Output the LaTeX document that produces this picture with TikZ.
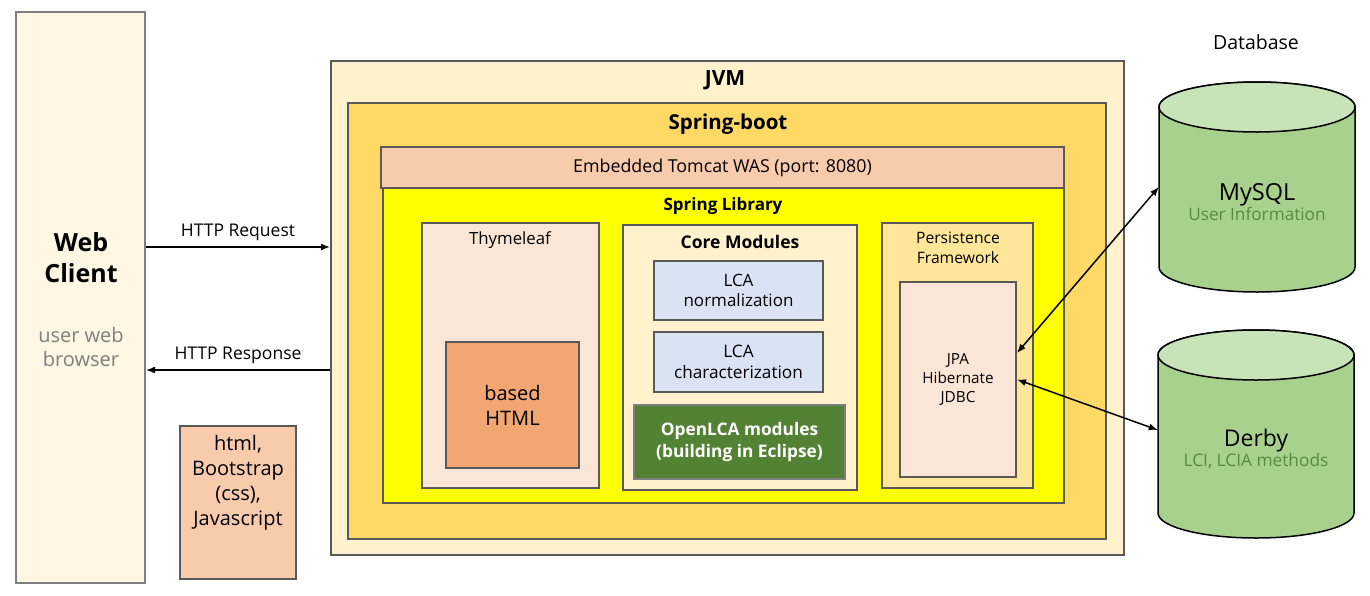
\documentclass[tikz,border=0pt]{standalone}
\usepackage{fontspec}
\setmainfont{Open Sans}
\usepackage{tikz}
\usetikzlibrary{positioning}
\usetikzlibrary{arrows.meta}
\definecolor{edge}{HTML}{595959}
\definecolor{clientedge}{HTML}{7F7F7F}
\definecolor{clientfill}{HTML}{FFF7E4}
\definecolor{jvmfill}{HTML}{FFF2CC}
\definecolor{bootfill}{HTML}{FFD966}
\definecolor{peach}{HTML}{F8CBAD}
\definecolor{libfill}{HTML}{FFFF00}
\definecolor{pale}{HTML}{FBE5D6}
\definecolor{orangebox}{HTML}{F2A772}
\definecolor{bluebox}{HTML}{DAE3F3}
\definecolor{greenbox}{HTML}{548235}
\definecolor{persfill}{HTML}{FFE699}
\definecolor{dbbody}{HTML}{A9D18E}
\definecolor{dbtop}{HTML}{C9E3B8}
\definecolor{dbtext}{HTML}{5A8A40}
\newcommand{\fsz}[2]{\fontsize{#1}{#2}\selectfont}
\tikzset{>={Latex[length=9pt,width=7pt]}}
\tikzset{
  layer/.style={draw=edge, line width=2pt, inner sep=0pt, align=center},
  dbside/.style={draw=black, line width=1.5pt, fill=dbbody},
  dbcap/.style={draw=black, line width=1.5pt, fill=dbtop},
  link/.style={line width=1.5pt}
}

\begin{document}
\begin{tikzpicture}[x=1pt,y=-1pt]
\useasboundingbox (0,0) rectangle (1370,595);

% ---------- Web client ----------
\node[layer, draw=clientedge, fill=clientfill, minimum width=129pt, minimum height=571pt] (web) at (80.5,297.5) {};
\node[font=\fsz{25}{31}\bfseries, align=center] (webname) at (81,258) {Web\\Client};
\node[font=\fsz{20}{24}, text=clientedge, align=center] (webdesc) at (81,347) {user web\\browser};

\node[layer, fill=peach, minimum width=116pt, minimum height=153pt] (front) at (238,502.5) {};
\node[font=\fsz{20}{25}, align=center] (fronttxt) at (238,482.5) {html,\\Bootstrap\\(css),\\Javascript};

% ---------- JVM / Spring-boot ----------
\node[layer, fill=jvmfill, minimum width=793pt, minimum height=494pt] (jvm) at (727.5,308) {};
\node[font=\fsz{21}{24}\bfseries] (jvmname) at (725,80) {JVM};
\node[layer, fill=bootfill, minimum width=758pt, minimum height=436pt] (boot) at (727,321) {};
\node[font=\fsz{20.5}{24}\bfseries] (bootname) at (728,124) {Spring-boot};
\node[layer, fill=peach, font=\fsz{17.8}{20}, minimum width=683pt, minimum height=41pt] (tomcat) at (722.5,167.5) {Embedded Tomcat WAS (port: 8080)};
\node[layer, fill=libfill, minimum width=681pt, minimum height=315pt] (lib) at (723.5,345.5) {};
\node[font=\fsz{17}{20}\bfseries] (libname) at (723,206) {Spring Library};

% ---------- Thymeleaf ----------
\node[layer, fill=pale, minimum width=177pt, minimum height=265pt] (thyme) at (510.5,355.5) {};
\node[font=\fsz{16.8}{20}] (thymename) at (510,240) {Thymeleaf};
\node[layer, fill=orangebox, font=\fsz{20}{25}, minimum width=133pt, minimum height=126pt] (html) at (512.5,405) {based\\HTML};

% ---------- Core modules ----------
\node[layer, fill=jvmfill, minimum width=234pt, minimum height=265pt] (core) at (740,357.5) {};
\node[font=\fsz{17.5}{20}\bfseries] (corename) at (740,242) {Core Modules};
\node[layer, fill=bluebox, font=\fsz{17}{20}, minimum width=169pt, minimum height=59pt] (norm) at (738.5,290.5) {LCA\\normalization};
\node[layer, fill=bluebox, font=\fsz{17.2}{21}, minimum width=169pt, minimum height=60pt] (charac) at (738.5,362) {LCA\\characterization};
\node[layer, draw=clientedge, fill=greenbox, text=white, font=\fsz{17.3}{22}\bfseries, minimum width=211pt, minimum height=74pt] (openlca) at (739.5,442) {OpenLCA modules\\(building in Eclipse)};

% ---------- Persistence ----------
\node[layer, fill=persfill, minimum width=151pt, minimum height=265pt] (persist) at (957.5,355.5) {};
\node[font=\fsz{15.7}{20}, align=center] (persistname) at (958,248) {Persistence\\Framework};
\node[layer, fill=pale, font=\fsz{15.3}{19}, minimum width=116pt, minimum height=195pt] (jpa) at (958,379.5) {JPA\\Hibernate\\JDBC};

% ---------- Databases ----------
\node[font=\fsz{19.5}{22}] (dbname) at (1256,42) {Database};

% MySQL
\draw[dbside] (1159,107) -- (1159,267) arc[start angle=180, end angle=360, x radius=98pt, y radius=25pt]
  -- (1355,107) arc[start angle=0, end angle=180, x radius=98pt, y radius=25pt] -- cycle;
\draw[dbcap] (1257,107) ellipse[x radius=98pt, y radius=25pt];
\node[inner sep=0pt, minimum width=196pt, minimum height=210pt] (mysql) at (1257,187) {};
\node[align=center] (mysqltxt) at (1257,202) {{\fsz{23.5}{24}MySQL}\\{\fsz{17.2}{24}\color{dbtext}User Information}};

% Derby
\draw[dbside] (1158,355) -- (1158,513) arc[start angle=180, end angle=360, x radius=98pt, y radius=25pt]
  -- (1354,355) arc[start angle=0, end angle=180, x radius=98pt, y radius=25pt] -- cycle;
\draw[dbcap] (1256,355) ellipse[x radius=98pt, y radius=25pt];
\node[inner sep=0pt, minimum width=196pt, minimum height=208pt] (derby) at (1256,434) {};
\node[align=center] (derbytxt) at (1256,449) {{\fsz{23}{24}Derby}\\{\fsz{17.3}{24}\color{dbtext}LCI, LCIA methods}};

% ---------- Arrows ----------
\coordinate (req) at ([yshift=50.5pt]web.east);
\coordinate (resp) at ([yshift=-72.5pt]web.east);
\draw[->, link] (req) -- (req -| jvm.west) node[midway, above=2pt, font=\fsz{17.5}{20}] {HTTP Request};
\draw[<-, link] (resp) -- (resp -| jvm.west) node[midway, above=2pt, font=\fsz{17.5}{20}] {HTTP Response};
\draw[<->, link] (mysql.west) -- ([yshift=26.5pt]jpa.east);
\draw[<->, link] (jpa.east) -- ([yshift=4pt]derby.west);

\end{tikzpicture}
\end{document}
